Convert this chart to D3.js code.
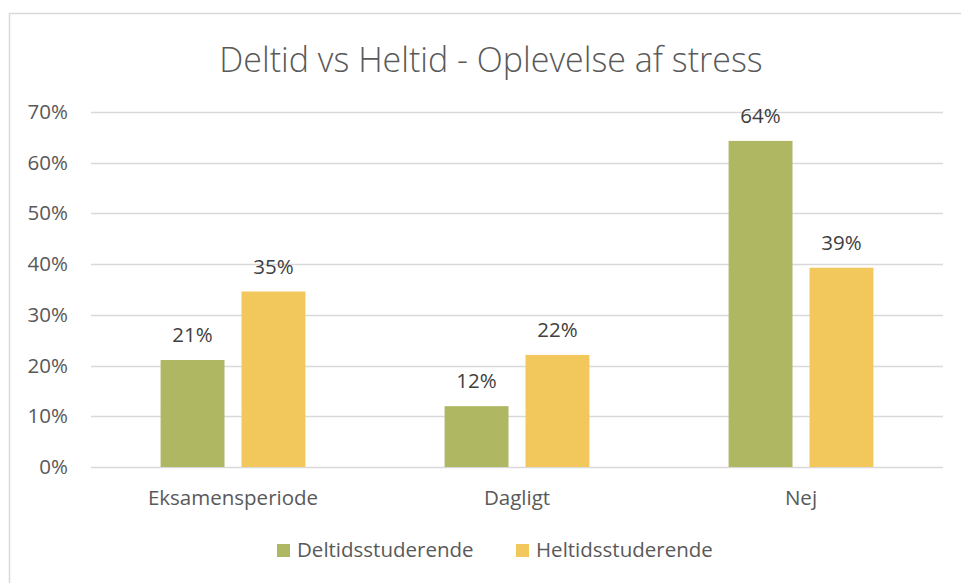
<!DOCTYPE html>
<html>
<head>
<meta charset="utf-8">
<script src="https://cdn.jsdelivr.net/npm/d3@7"></script>
<style>
  body { margin: 0; background: #fff; }
  svg { display: block; font-family: "Open Sans", sans-serif; }
</style>
</head>
<body>
<div id="chart"></div>
<script>
// data
var categories = ['Eksamensperiode', 'Dagligt', 'Nej'];
var seriesNames = ['Deltidsstuderende', 'Heltidsstuderende'];
var deltid = [0.211, 0.12, 0.643];
var heltid = [0.346, 0.221, 0.393];
var yTicks = [0, 0.1, 0.2, 0.3, 0.4, 0.5, 0.6, 0.7];
var colors = ['#afb763', '#f2c75c'];

var width = 961, height = 583;
var margin = {top: 112, right: 18, bottom: 116, left: 91};
var fontSize = 20.5;

var svg = d3.select('#chart').append('svg')
    .attr('width', width)
    .attr('height', height);

// chart frame (only left and top edges are inside the picture)
svg.append('path')
    .attr('d', 'M9.5,' + height + 'V13.5H' + width)
    .attr('fill', 'none')
    .attr('stroke', '#d9d9d9')
    .attr('stroke-width', 1.5);

svg.append('text')
    .attr('x', 491)
    .attr('y', 72)
    .attr('text-anchor', 'middle')
    .attr('font-size', 34)
    .attr('font-weight', 300)
    .attr('fill', '#595959')
    .text('Deltid vs Heltid - Oplevelse af stress');

var x = d3.scaleBand()
    .domain(categories)
    .range([margin.left, width - margin.right]);

var xInner = d3.scaleBand()
    .domain(seriesNames)
    .range([0, x.bandwidth()])
    .paddingInner(0.21)
    .paddingOuter(0.86);

var y = d3.scaleLinear()
    .domain([0, 0.7])
    .range([height - margin.bottom, margin.top]);

// gridlines
svg.append('g')
    .selectAll('line')
    .data(yTicks)
    .enter()
    .append('line')
    .attr('x1', margin.left)
    .attr('x2', width - margin.right)
    .attr('y1', function(d) { return Math.round(y(d)) + 0.5; })
    .attr('y2', function(d) { return Math.round(y(d)) + 0.5; })
    .attr('stroke', '#d9d9d9')
    .attr('stroke-width', 1.5);

// y axis labels
var yAxis = d3.axisLeft(y)
    .tickValues(yTicks)
    .tickFormat(d3.format('.0%'))
    .tickSize(0)
    .tickPadding(23);

var gy = svg.append('g')
    .attr('transform', 'translate(' + margin.left + ',0)')
    .call(yAxis);
gy.select('.domain').remove();
gy.selectAll('text')
    .attr('font-family', '"Open Sans", sans-serif')
    .attr('font-size', fontSize)
    .attr('fill', '#595959');

// x axis labels
var xAxis = d3.axisBottom(x).tickSize(0).tickPadding(23);
var gx = svg.append('g')
    .attr('transform', 'translate(0,' + y(0) + ')')
    .call(xAxis);
gx.select('.domain').remove();
gx.selectAll('text')
    .attr('font-family', '"Open Sans", sans-serif')
    .attr('font-size', fontSize)
    .attr('fill', '#595959');

// bars
var rows = categories.map(function(c, i) {
    return {cat: c, values: [
        {name: seriesNames[0], v: deltid[i], color: colors[0]},
        {name: seriesNames[1], v: heltid[i], color: colors[1]}
    ]};
});

var groups = svg.append('g')
    .selectAll('g')
    .data(rows)
    .enter()
    .append('g')
    .attr('transform', function(d) { return 'translate(' + x(d.cat) + ',0)'; });

groups.selectAll('rect')
    .data(function(d) { return d.values; })
    .enter()
    .append('rect')
    .attr('x', function(d) { return xInner(d.name); })
    .attr('y', function(d) { return y(d.v); })
    .attr('width', xInner.bandwidth())
    .attr('height', function(d) { return y(0) - y(d.v); })
    .attr('fill', function(d) { return d.color; });

groups.selectAll('text')
    .data(function(d) { return d.values; })
    .enter()
    .append('text')
    .attr('x', function(d) { return xInner(d.name) + xInner.bandwidth() / 2; })
    .attr('y', function(d) { return y(d.v) - 18; })
    .attr('text-anchor', 'middle')
    .attr('font-size', fontSize)
    .attr('fill', '#404040')
    .text(function(d) { return d3.format('.0%')(d.v); });

// legend
var legend = svg.append('g')
    .selectAll('g')
    .data(seriesNames)
    .enter()
    .append('g')
    .attr('transform', function(d, i) { return 'translate(' + (277 + i * 239) + ',544)'; });

legend.append('rect')
    .attr('width', 13)
    .attr('height', 13)
    .attr('fill', function(d, i) { return colors[i]; });

legend.append('text')
    .attr('x', 20)
    .attr('y', 13)
    .attr('font-size', fontSize)
    .attr('fill', '#595959')
    .text(function(d) { return d; });
</script>
</body>
</html>
